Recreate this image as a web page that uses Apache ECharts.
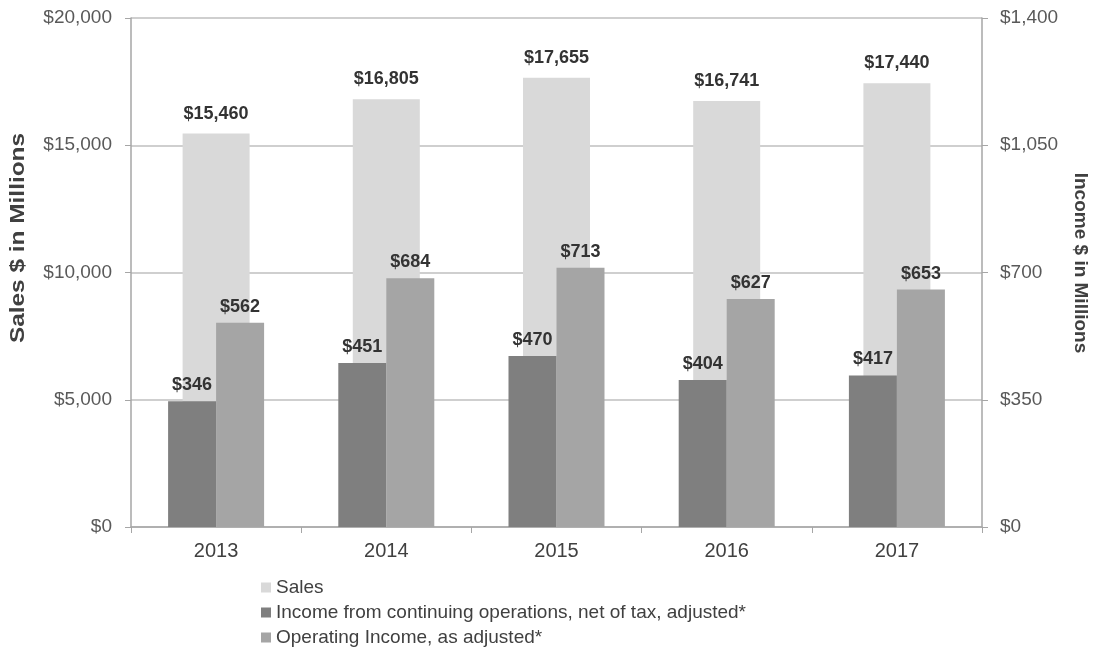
<!DOCTYPE html>
<html>
<head>
<meta charset="utf-8">
<script src="https://cdn.jsdelivr.net/npm/echarts@6/dist/echarts.min.js"></script>
<style>
  html, body { margin: 0; padding: 0; background: #fff; }
  #chart { width: 1095px; height: 658px; }
</style>
</head>
<body>
<div id="chart"></div>
<script>
// 数据
const years = ['2013', '2014', '2015', '2016', '2017'];
const sales = [15460, 16805, 17655, 16741, 17440];
const netIncome = [346, 451, 470, 404, 417];
const opIncome = [562, 684, 713, 627, 653];
const salesTicks = [0, 5000, 10000, 15000, 20000];
const incomeTicks = [0, 350, 700, 1050, 1400];

const money = v => '$' + Number(v).toLocaleString('en-US');
const FONT = '"Liberation Sans", Arial, sans-serif';

var chart = echarts.init(document.getElementById('chart'), null, { renderer: 'canvas' });

const valueLabel = {
  show: true,
  position: 'top',
  distance: 7,
  formatter: p => money(p.value),
  fontFamily: FONT,
  fontWeight: 'bold',
  fontSize: 18,
  color: '#333333'
};

const option = {
  backgroundColor: '#ffffff',
  animation: false,
  grid: { left: 131, right: 113, top: 18, bottom: 131 },
  legend: {
    orient: 'vertical',
    left: 256,
    top: 573,
    itemWidth: 10,
    itemHeight: 10,
    itemGap: 6,
    icon: 'rect',
    textStyle: { fontFamily: FONT, fontSize: 19, color: '#404040' },
    data: ['Sales', 'Income from continuing operations, net of tax, adjusted*', 'Operating Income, as adjusted*']
  },
  graphic: [
    {
      type: 'text', x: 18, y: 238, rotation: Math.PI / 2, scaleX: 1.22,
      style: { text: 'Sales $ in Millions', fontFamily: FONT, fontWeight: 'bold', fontSize: 20,
               fill: '#404040', align: 'center', verticalAlign: 'middle' }
    },
    {
      type: 'text', x: 1080, y: 263, rotation: -Math.PI / 2,
      style: { text: 'Income $ in Millions', fontFamily: FONT, fontWeight: 'bold', fontSize: 19,
               fill: '#404040', align: 'center', verticalAlign: 'middle' }
    }
  ],
  xAxis: [
    {
      type: 'category',
      data: years,
      axisLine: { lineStyle: { color: '#a6a6a6', width: 1.5 } },
      axisTick: { show: true, length: 6, lineStyle: { color: '#a6a6a6' } },
      axisLabel: { fontFamily: FONT, fontSize: 20, color: '#404040', margin: 14 }
    },
    {
      type: 'category',
      data: years,
      show: false
    }
  ],
  yAxis: [
    {
      type: 'value',
      min: salesTicks[0],
      max: salesTicks[salesTicks.length - 1],
      interval: salesTicks[1] - salesTicks[0],
      axisLine: { show: true, lineStyle: { color: '#a6a6a6', width: 1.5 } },
      axisTick: { show: true, length: 6, lineStyle: { color: '#a6a6a6' } },
      axisLabel: { fontFamily: FONT, fontSize: 19, color: '#595959', margin: 19, formatter: money },
      splitLine: { lineStyle: { color: '#bfbfbf', width: 1.5 } }
    },
    {
      type: 'value',
      position: 'right',
      min: incomeTicks[0],
      max: incomeTicks[incomeTicks.length - 1],
      interval: incomeTicks[1] - incomeTicks[0],
      axisLine: { show: true, lineStyle: { color: '#a6a6a6', width: 1.5 } },
      axisTick: { show: true, length: 6, lineStyle: { color: '#a6a6a6' } },
      axisLabel: { fontFamily: FONT, fontSize: 19, color: '#595959', margin: 18, formatter: money },
      splitLine: { show: false }
    }
  ],
  series: [
    {
      name: 'Sales',
      type: 'bar',
      xAxisIndex: 0,
      yAxisIndex: 0,
      barWidth: 67,
      data: sales,
      itemStyle: { color: '#d9d9d9' },
      label: Object.assign({}, valueLabel, { distance: 11 })
    },
    {
      name: 'Income from continuing operations, net of tax, adjusted*',
      type: 'bar',
      xAxisIndex: 1,
      yAxisIndex: 1,
      barWidth: 48,
      barGap: '0%',
      data: netIncome,
      itemStyle: { color: '#7f7f7f' },
      label: valueLabel
    },
    {
      name: 'Operating Income, as adjusted*',
      type: 'bar',
      xAxisIndex: 1,
      yAxisIndex: 1,
      barWidth: 48,
      barGap: '0%',
      data: opIncome,
      itemStyle: { color: '#a5a5a5' },
      label: valueLabel
    }
  ]
};

// 渲染
chart.setOption(option);
window.addEventListener('resize', () => {
  chart.resize();
});
</script>
</body>
</html>
